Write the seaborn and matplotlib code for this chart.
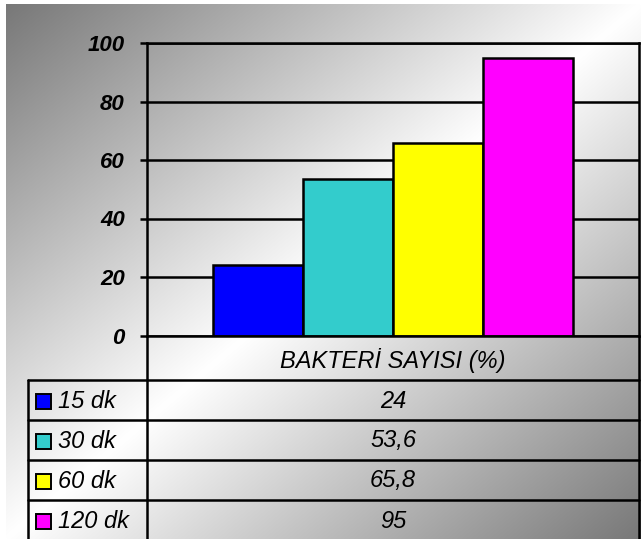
import numpy as np
import pandas as pd
import matplotlib
matplotlib.use("Agg")
import matplotlib.pyplot as plt
from matplotlib.lines import Line2D
from matplotlib.patches import Rectangle
import seaborn as sns

# ---- data ----
category = "BAKTERİ SAYISI (%)"
series = ["15 dk", "30 dk", "60 dk", "120 dk"]
values = [24, 53.6, 65.8, 95]
colors = ["#0000FF", "#33CCCC", "#FFFF00", "#FF00FF"]
y_ticks = [0, 20, 40, 60, 80, 100]

df = pd.DataFrame({"cat": [category] * len(series), "series": series, "val": values})

sns.set_theme(style="white")
plt.rcParams["font.family"] = ["Liberation Sans", "DejaVu Sans"]

W, H = 641, 539
fig = plt.figure(figsize=(W / 100, H / 100), dpi=100)
fig.patch.set_facecolor("white")


def fx(x):
    return x / W


def fy(y):
    return 1 - y / H


# diagonal grey-white-grey background
bx0, by0 = 6, 4
bg = fig.add_axes([fx(bx0), 0, 1 - fx(bx0), fy(by0)])
gw, gh = W - bx0, H - by0
u = np.linspace(0, 1, gw)[None, :]
v = np.linspace(0, 1, gh)[:, None]
t = (u + v) / 2
grey = 0.47
shade = 1 - (1 - grey) * np.abs(2 * t - 1)
bg.imshow(np.dstack([shade] * 3), aspect="auto", interpolation="bilinear",
          extent=[0, 1, 0, 1])
bg.set_axis_off()
bg.set_zorder(0)

# plot area
left, right, top, bottom = 147, 639, 43, 335.5
ax = fig.add_axes([fx(left), fy(bottom), fx(right - left), (bottom - top) / H])
ax.set_zorder(1)
ax.patch.set_alpha(0)

lw = 1.8
group_width = 360 / (right - left)
sns.barplot(data=df, x="cat", y="val", hue="series", palette=colors,
            width=group_width, edgecolor="black", linewidth=lw,
            saturation=1, legend=False, ax=ax)
ax.set_xlim(-0.5, 0.5)
ax.set_ylim(0, 100)
ax.set_yticks(y_ticks)
ax.set_yticklabels([str(v) for v in y_ticks], fontsize=16,
                   fontweight="bold", fontstyle="italic", color="black")
ax.tick_params(axis="y", left=True, length=5, width=lw, color="black", pad=11)
ax.tick_params(axis="x", length=0, pad=9, labelsize=17, labelcolor="black")
for lbl in ax.get_xticklabels():
    lbl.set_fontstyle("italic")
ax.set_xlabel("")
ax.set_ylabel("")
ax.yaxis.grid(True, color="black", linewidth=lw)
ax.set_axisbelow(True)
for side in ["left", "right", "top", "bottom"]:
    ax.spines[side].set_visible(True)
    ax.spines[side].set_color("black")
    ax.spines[side].set_linewidth(lw)

# data table below the plot
tbl_left = 28
rows = [380, 420, 460, 500]
line_kw = dict(color="black", linewidth=lw, transform=fig.transFigure, zorder=3)
fig.add_artist(Line2D([fx(left)] * 2, [fy(bottom), 0], **line_kw))
fig.add_artist(Line2D([fx(right)] * 2, [fy(bottom), 0], **line_kw))
fig.add_artist(Line2D([fx(tbl_left)] * 2, [fy(rows[0]), 0], **line_kw))
for ry in rows:
    fig.add_artist(Line2D([fx(tbl_left), fx(right)], [fy(ry)] * 2, **line_kw))

row_h = 40
key = 15
for i, (name, val, col) in enumerate(zip(series, values, colors)):
    cy = rows[0] + row_h * i + row_h / 2 + 1
    fig.add_artist(Rectangle((fx(36), fy(cy + key / 2)), key / W, key / H,
                             facecolor=col, edgecolor="black", linewidth=1.4,
                             transform=fig.transFigure, zorder=4))
    fig.text(fx(58), fy(cy), name, fontsize=17, fontstyle="italic",
             ha="left", va="center", color="black", zorder=4)
    txt = f"{val:g}".replace(".", ",")
    fig.text(fx((left + right) / 2), fy(cy), txt, fontsize=17,
             fontstyle="italic", ha="center", va="center", color="black",
             zorder=4)

fig.savefig("out.png", dpi=100)
